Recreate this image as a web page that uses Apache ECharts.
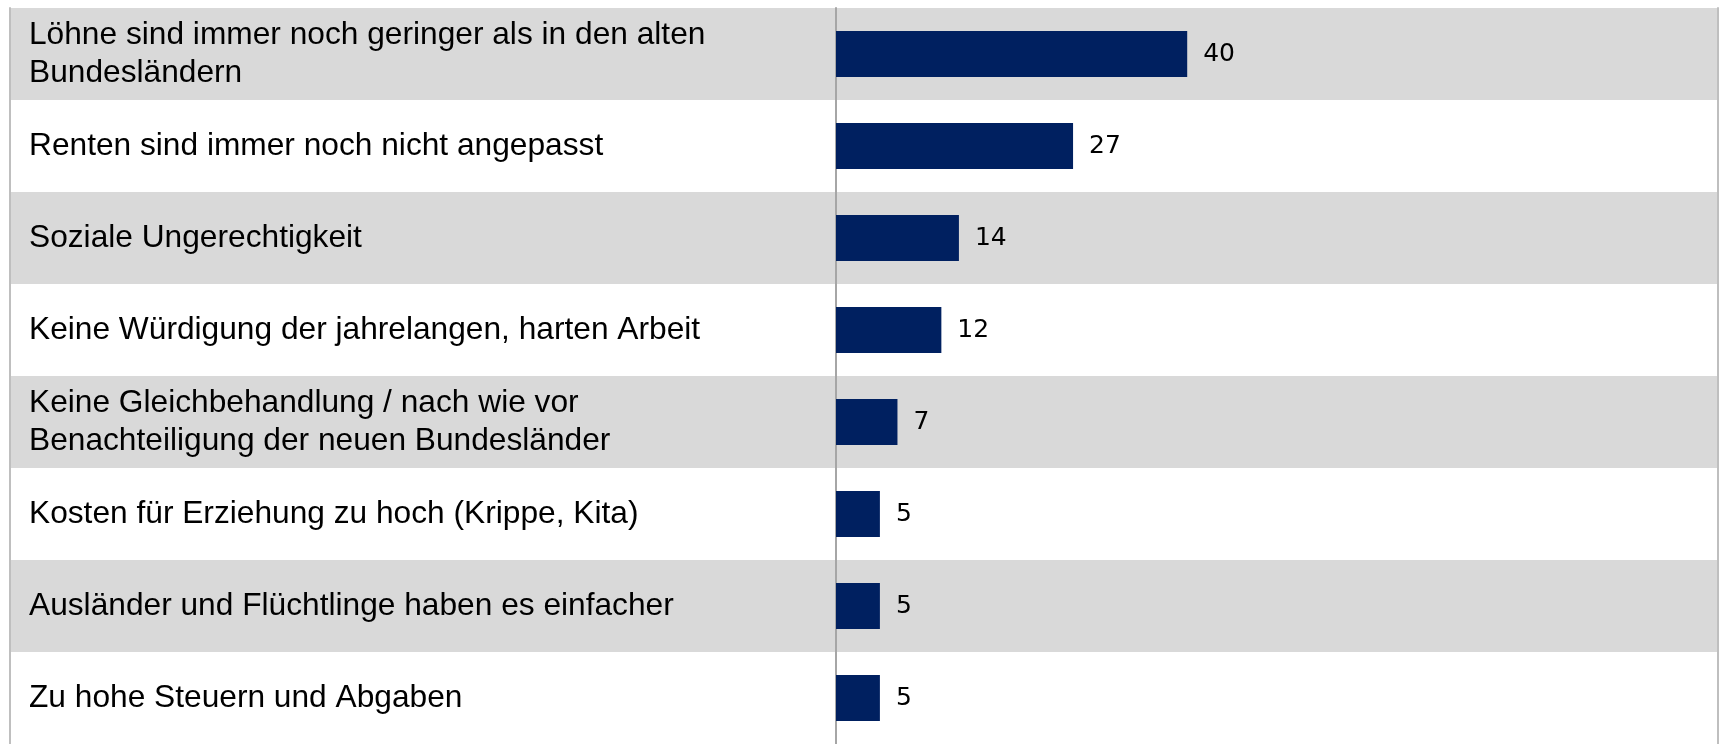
<!DOCTYPE html>
<html>
<head>
<meta charset="utf-8">
<script src="https://cdn.jsdelivr.net/npm/echarts@6/dist/echarts.min.js"></script>
<style>
  html, body { margin: 0; padding: 0; background: #fff; }
  #main { width: 1719px; height: 744px; }
</style>
</head>
<body>
<div id="main"></div>
<script>
// Gründe (Kategorien, von oben nach unten)
const categories = [
  'Löhne sind immer noch geringer als in den alten\nBundesländern',
  'Renten sind immer noch nicht angepasst',
  'Soziale Ungerechtigkeit',
  'Keine Würdigung der jahrelangen, harten Arbeit',
  'Keine Gleichbehandlung / nach wie vor\nBenachteiligung der neuen Bundesländer',
  'Kosten für Erziehung zu hoch (Krippe, Kita)',
  'Ausländer und Flüchtlinge haben es einfacher',
  'Zu hohe Steuern und Abgaben'
];
const values = [40, 27, 14, 12, 7, 5, 5, 5];

const chart = echarts.init(document.getElementById('main'));

const option = {
  animation: false,
  grid: [
    // Hintergrund-Streifen + Beschriftungen über die ganze Breite
    { left: 10, right: 1, top: 8, bottom: -3 },
    // Balkenbereich
    { left: 836, right: 5, top: 8, bottom: -3 }
  ],
  xAxis: [
    { gridIndex: 0, type: 'value', show: false },
    { gridIndex: 1, type: 'value', min: 0, max: 100, show: false }
  ],
  yAxis: [
    {
      gridIndex: 0,
      type: 'category',
      inverse: true,
      data: categories,
      axisLine: { show: true, lineStyle: { color: '#bfbfbf', width: 2 } },
      axisTick: { show: false },
      splitLine: { show: false },
      splitArea: { show: true, areaStyle: { color: ['#d9d9d9', '#ffffff'] } },
      axisLabel: {
        inside: true,
        margin: 19,
        color: '#000',
        fontFamily: 'Liberation Sans, Arial, sans-serif',
        fontSize: 31.7,
        lineHeight: 38
      }
    },
    {
      gridIndex: 0,
      type: 'category',
      position: 'right',
      inverse: true,
      data: categories,
      axisLine: { show: true, lineStyle: { color: '#bfbfbf', width: 2 } },
      axisTick: { show: false },
      axisLabel: { show: false }
    },
    {
      gridIndex: 1,
      type: 'category',
      inverse: true,
      data: categories,
      axisLine: { show: true, lineStyle: { color: '#a6a6a6', width: 2 } },
      axisTick: { show: false },
      axisLabel: { show: false }
    }
  ],
  series: [
    {
      type: 'bar',
      xAxisIndex: 1,
      yAxisIndex: 2,
      data: values,
      barWidth: '50%',
      itemStyle: { color: '#002060' },
      label: {
        show: true,
        position: 'right',
        distance: 16,
        color: '#000',
        fontFamily: 'DejaVu Sans, Verdana, sans-serif',
        fontSize: 25,
        padding: [4, 0, 0, 0]
      }
    }
  ]
};

chart.setOption(option);
</script>
</body>
</html>
